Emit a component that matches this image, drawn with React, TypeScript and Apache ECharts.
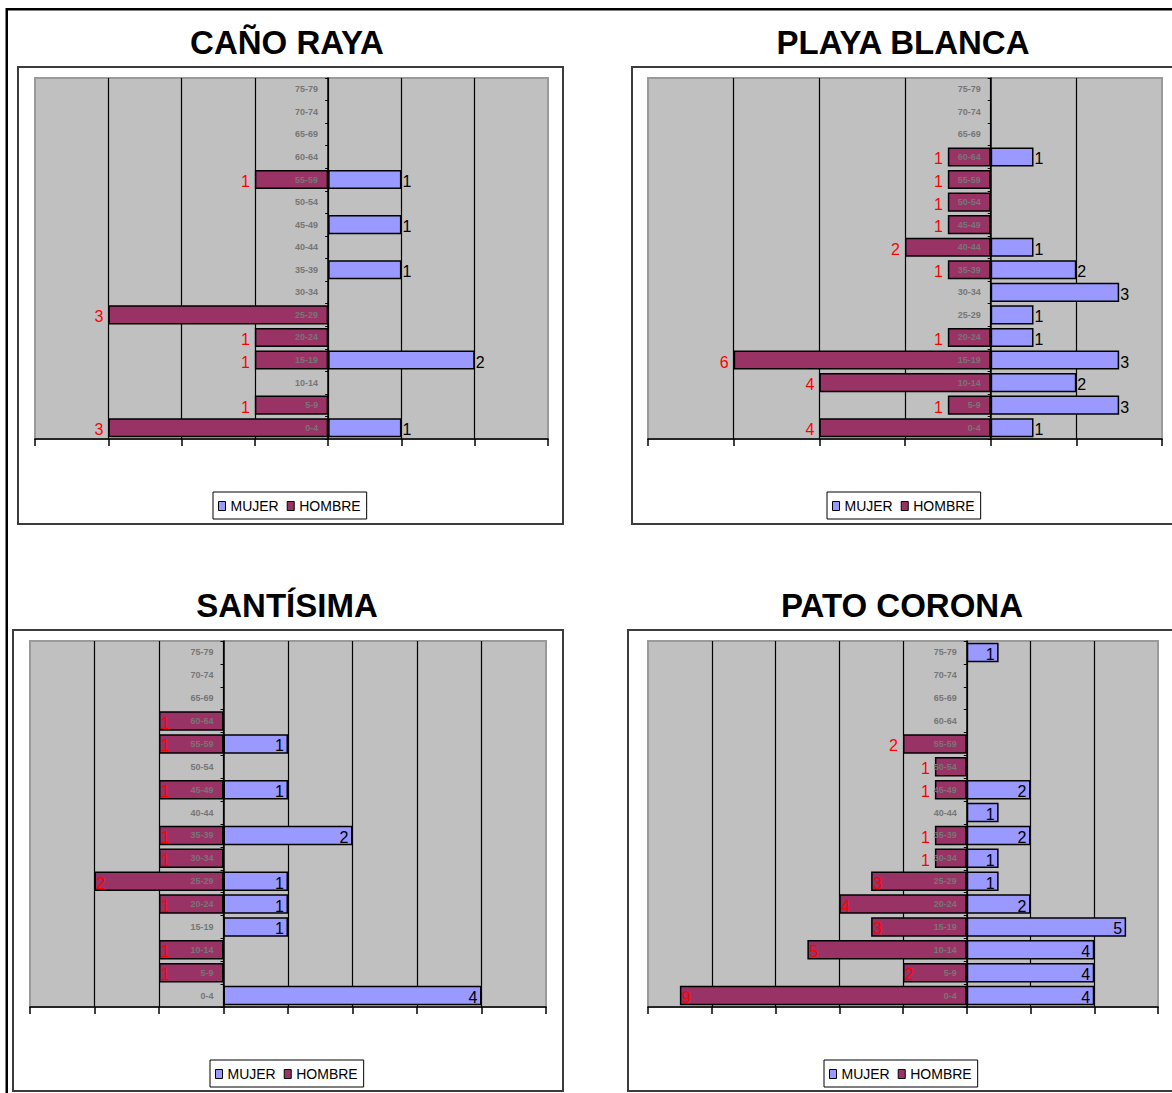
import React, { useEffect, useRef } from 'react';
import * as echarts from 'echarts';

// Age groups, bottom to top
const categories = ['0-4', '5-9', '10-14', '15-19', '20-24', '25-29', '30-34', '35-39', '40-44', '45-49', '50-54', '55-59', '60-64', '65-69', '70-74', '75-79'];

const canoRayaMujer = [1, 0, 0, 2, 0, 0, 0, 1, 0, 1, 0, 1, 0, 0, 0, 0];
const canoRayaHombre = [3, 1, 0, 1, 1, 3, 0, 0, 0, 0, 0, 1, 0, 0, 0, 0];

const playaBlancaMujer = [1, 3, 2, 3, 1, 1, 3, 2, 1, 0, 0, 0, 1, 0, 0, 0];
const playaBlancaHombre = [4, 1, 4, 6, 1, 0, 0, 1, 2, 1, 1, 1, 1, 0, 0, 0];

const santisimaMujer = [4, 0, 0, 1, 1, 1, 0, 2, 0, 1, 0, 1, 0, 0, 0, 0];
const santisimaHombre = [0, 1, 1, 0, 1, 2, 1, 1, 0, 1, 0, 1, 1, 0, 0, 0];

const patoCoronaMujer = [4, 4, 4, 5, 2, 1, 1, 2, 1, 2, 0, 0, 0, 0, 0, 1];
const patoCoronaHombre = [9, 2, 5, 3, 4, 3, 1, 1, 0, 1, 1, 2, 0, 0, 0, 0];

const legendNames = ['MUJER', 'HOMBRE'];

const FONT = "'Liberation Sans', Arial, Helvetica, sans-serif";
const MUJER_COLOR = '#9999FF';
const HOMBRE_COLOR = '#993366';

type Panel = {
  title: string;
  mujer: number[];
  hombre: number[];
  min: number;
  max: number;
  interval: number;
  grid: { left: number; top: number; width: number; height: number };
  titleX: number;
  titleY: number;
  legendLeft: number;
  legendTop: number;
  box: { x: number; y: number; w: number; h: number };
  hombreInsideBelow: number;
  mujerInside: boolean;
};

const panels: Panel[] = [
  {
    title: 'CAÑO RAYA', mujer: canoRayaMujer, hombre: canoRayaHombre,
    min: -4, max: 3, interval: 1,
    grid: { left: 35, top: 78, width: 513, height: 361 },
    titleX: 287, titleY: 42, legendLeft: 213, legendTop: 492,
    box: { x: 18, y: 67, w: 545, h: 457 },
    hombreInsideBelow: 0, mujerInside: false,
  },
  {
    title: 'PLAYA BLANCA', mujer: playaBlancaMujer, hombre: playaBlancaHombre,
    min: -8, max: 4, interval: 2,
    grid: { left: 648, top: 78, width: 514, height: 361 },
    titleX: 903, titleY: 42, legendLeft: 827, legendTop: 492,
    box: { x: 632, y: 67, w: 600, h: 457 },
    hombreInsideBelow: 0, mujerInside: false,
  },
  {
    title: 'SANTÍSIMA', mujer: santisimaMujer, hombre: santisimaHombre,
    min: -3, max: 5, interval: 1,
    grid: { left: 30, top: 641, width: 516, height: 366 },
    titleX: 287, titleY: 605, legendLeft: 210, legendTop: 1060,
    box: { x: 13, y: 630, w: 550, h: 461 },
    hombreInsideBelow: 16, mujerInside: true,
  },
  {
    title: 'PATO CORONA', mujer: patoCoronaMujer, hombre: patoCoronaHombre,
    min: -10, max: 6, interval: 2,
    grid: { left: 648, top: 641, width: 510, height: 366 },
    titleX: 902, titleY: 605, legendLeft: 824, legendTop: 1060,
    box: { x: 628, y: 630, w: 600, h: 461 },
    hombreInsideBelow: 6, mujerInside: true,
  },
];

function buildOption() {
  const grid: any[] = [];
  const xAxis: any[] = [];
  const yAxis: any[] = [];
  const series: any[] = [];
  const legend: any[] = [];
  const graphic: any[] = [
    { type: 'rect', z: 100, shape: { x: 6, y: 8, width: 1200, height: 2.5 }, style: { fill: '#000' } },
    { type: 'rect', z: 100, shape: { x: 5.5, y: 8, width: 2.5, height: 1100 }, style: { fill: '#000' } },
  ];

  panels.forEach((p, i) => {
    // category labels sit just left of the zero line, inside the plot
    const zeroOffset = (p.grid.width * (0 - p.min)) / (p.max - p.min);
    grid.push({
      left: p.grid.left, top: p.grid.top, width: p.grid.width, height: p.grid.height,
      show: true, backgroundColor: '#C0C0C0', borderColor: '#9a9a9a', borderWidth: 2,
    });
    xAxis.push({
      type: 'value', gridIndex: i, min: p.min, max: p.max, interval: p.interval,
      axisLine: { show: true, lineStyle: { color: '#000', width: 1.5 } },
      axisTick: { show: true, length: 7, lineStyle: { color: '#000', width: 1.5 } },
      axisLabel: { show: false },
      splitLine: { show: true, showMinLine: false, showMaxLine: false, lineStyle: { color: '#000', width: 1.2 } },
    });
    yAxis.push({
      type: 'category', gridIndex: i, data: categories, z: 3,
      axisLine: { show: true, onZero: true, lineStyle: { color: '#000', width: 1.5 } },
      axisTick: { show: true, length: 3, lineStyle: { color: '#000' } },
      axisLabel: {
        show: true, margin: -(zeroOffset - 10), fontSize: 9, fontWeight: 'bold',
        color: '#767676', fontFamily: FONT, align: 'right',
      },
      splitLine: { show: false },
    });
    series.push({
      name: 'MUJER', type: 'bar', xAxisIndex: i, yAxisIndex: i,
      barGap: '-100%', barCategoryGap: '15%',
      itemStyle: { color: MUJER_COLOR, borderColor: '#000', borderWidth: 1.5 },
      label: {
        show: true, color: '#000', fontSize: 16, fontFamily: FONT, offset: [0, 2],
        formatter: (d: any) => String(Math.abs(d.value)),
      },
      data: p.mujer.map((v) => (v === 0 ? '-' : {
        value: v,
        label: { position: p.mujerInside ? 'insideRight' : 'right', distance: p.mujerInside ? 4 : 1 },
      })),
    });
    series.push({
      name: 'HOMBRE', type: 'bar', xAxisIndex: i, yAxisIndex: i,
      barGap: '-100%', barCategoryGap: '15%',
      itemStyle: { color: HOMBRE_COLOR, borderColor: '#000', borderWidth: 1.5 },
      label: {
        show: true, color: '#FF0000', fontSize: 16, fontFamily: FONT, offset: [0, 2],
        formatter: (d: any) => String(Math.abs(d.value)),
      },
      data: p.hombre.map((v, k) => (v === 0 ? '-' : {
        value: -v,
        label: { position: k < p.hombreInsideBelow ? 'insideLeft' : 'left', distance: k < p.hombreInsideBelow ? 2 : 5 },
      })),
    });
    legend.push({
      data: legendNames, left: p.legendLeft, top: p.legendTop, orient: 'horizontal',
      icon: 'rect', itemWidth: 7, itemHeight: 9, itemGap: 8, padding: [7, 6, 6, 5],
      borderColor: '#000', borderWidth: 1, backgroundColor: '#fff',
      textStyle: { fontSize: 14, color: '#000', fontFamily: FONT },
      itemStyle: { borderColor: '#000', borderWidth: 1 },
      selectedMode: false,
    });
    graphic.push({
      type: 'rect', z: 0, silent: true,
      shape: { x: p.box.x, y: p.box.y, width: p.box.w, height: p.box.h },
      style: { fill: 'transparent', stroke: '#3c3c3c', lineWidth: 2 },
    });
    graphic.push({
      type: 'text', z: 100, x: p.titleX, y: p.titleY,
      style: {
        text: p.title, fill: '#000', fontSize: 33, fontWeight: 'bold', fontFamily: FONT,
        textAlign: 'center', textVerticalAlign: 'middle', align: 'center', verticalAlign: 'middle',
      },
    });
  });

  return { animation: false, backgroundColor: '#fff', grid, xAxis, yAxis, series, legend, graphic };
}

export default function App() {
  const ref = useRef<HTMLDivElement>(null);
  useEffect(() => {
    if (!ref.current) return;
    const chart = echarts.init(ref.current, null, { renderer: 'svg' });
    chart.setOption(buildOption() as any);
    return () => chart.dispose();
  }, []);
  return (
    <div
      ref={ref}
      style={{ position: 'fixed', left: 0, top: 0, width: 1172, height: 1093, background: '#fff' }}
    />
  );
}
